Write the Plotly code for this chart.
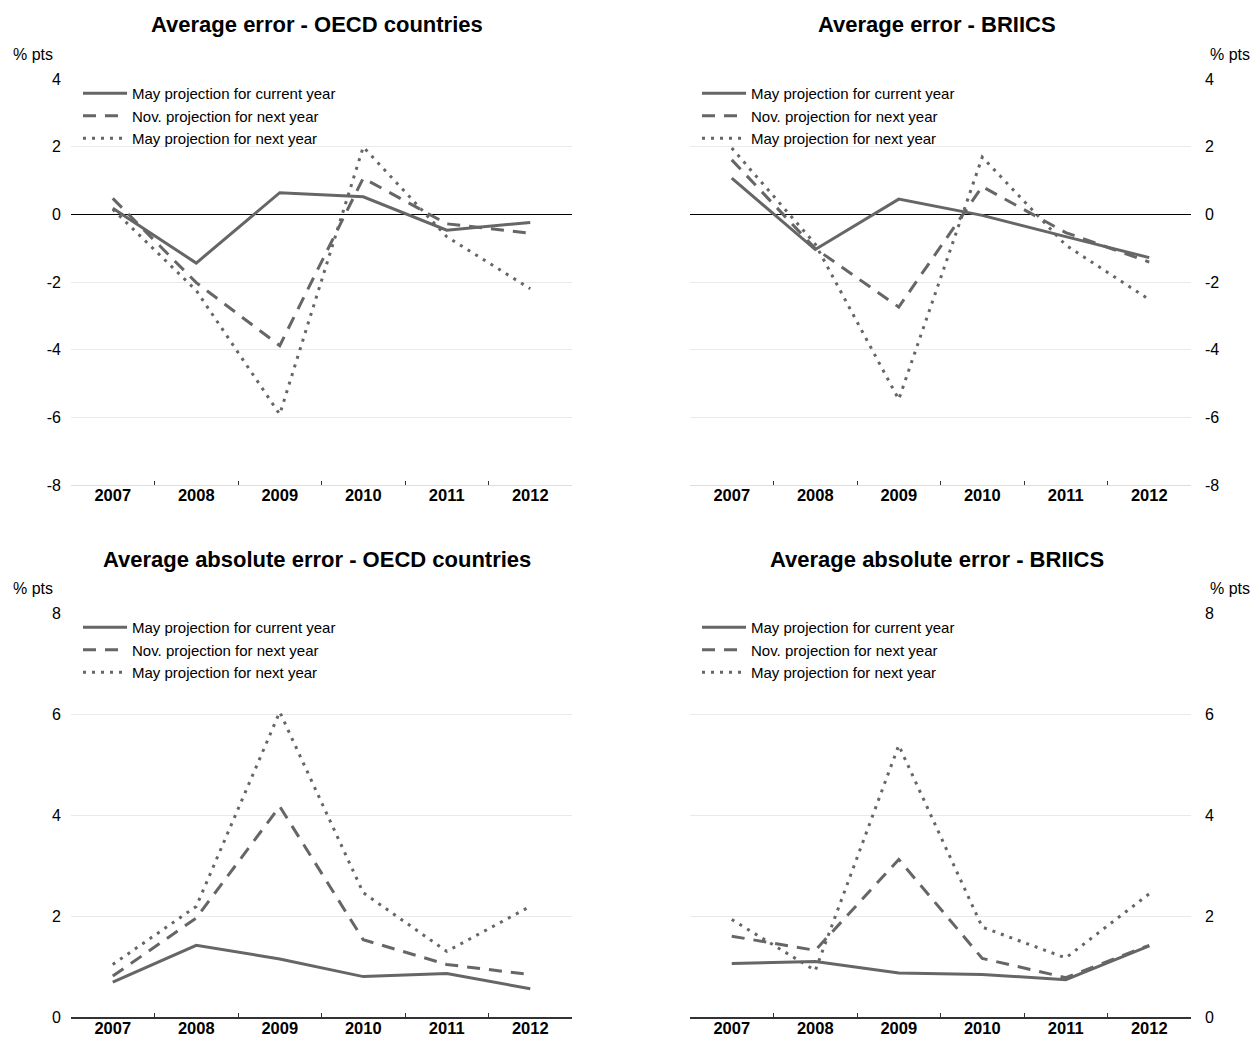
import plotly.graph_objects as go

years = ["2007", "2008", "2009", "2010", "2011", "2012"]
series_names = ["May projection for current year", "Nov. projection for next year", "May projection for next year"]

# Average error - OECD countries
oecd_err_may_cur = [0.18, -1.44, 0.64, 0.52, -0.47, -0.24]
oecd_err_nov_next = [0.47, -2.02, -3.88, 1.07, -0.28, -0.56]
oecd_err_may_next = [0.15, -2.25, -5.91, 1.99, -0.66, -2.20]

# Average error - BRIICS
briics_err_may_cur = [1.07, -1.04, 0.45, -0.03, -0.66, -1.28]
briics_err_nov_next = [1.61, -1.01, -2.74, 0.82, -0.54, -1.41]
briics_err_may_next = [1.96, -0.88, -5.47, 1.69, -0.91, -2.52]

# Average absolute error - OECD countries
oecd_abs_may_cur = [0.69, 1.42, 1.15, 0.80, 0.86, 0.56]
oecd_abs_nov_next = [0.81, 1.96, 4.17, 1.53, 1.04, 0.84]
oecd_abs_may_next = [1.04, 2.19, 6.04, 2.46, 1.30, 2.19]

# Average absolute error - BRIICS
briics_abs_may_cur = [1.06, 1.10, 0.87, 0.84, 0.74, 1.41]
briics_abs_nov_next = [1.60, 1.32, 3.12, 1.16, 0.78, 1.42]
briics_abs_may_next = [1.93, 0.92, 5.38, 1.78, 1.17, 2.44]

err_ticks = [-8, -6, -4, -2, 0, 2, 4]
abs_ticks = [0, 2, 4, 6, 8]

titles = ["Average error - OECD countries", "Average error - BRIICS",
          "Average absolute error - OECD countries", "Average absolute error - BRIICS"]

W, H = 1253, 1038
LINE = "#666666"
GRID = "#e9e9e9"
FONT = "Liberation Sans, Arial, Helvetica, sans-serif"


def px_x(p):
    return p / W


def px_y(p):
    return 1 - p / H


panels = [
    dict(data=[oecd_err_may_cur, oecd_err_nov_next, oecd_err_may_next], x0=71, x1=572, ytop=79, ybot=485,
         rng=[-8, 4], tickvals=err_ticks, side="left", top=True),
    dict(data=[briics_err_may_cur, briics_err_nov_next, briics_err_may_next], x0=690, x1=1191, ytop=79, ybot=485,
         rng=[-8, 4], tickvals=err_ticks, side="right", top=True),
    dict(data=[oecd_abs_may_cur, oecd_abs_nov_next, oecd_abs_may_next], x0=71, x1=572, ytop=613, ybot=1017,
         rng=[0, 8], tickvals=abs_ticks, side="left", top=False),
    dict(data=[briics_abs_may_cur, briics_abs_nov_next, briics_abs_may_next], x0=690, x1=1191, ytop=613, ybot=1017,
         rng=[0, 8], tickvals=abs_ticks, side="right", top=False),
]

dashes = ["solid", "13px,9px", "3px,6px"]

fig = go.Figure()
layout = dict(
    width=W, height=H, margin=dict(l=0, r=0, t=0, b=0, autoexpand=False),
    paper_bgcolor="white", plot_bgcolor="white",
    font=dict(family=FONT, size=16, color="black"),
    annotations=[],
)

for i, p in enumerate(panels):
    n = "" if i == 0 else str(i + 1)
    xa, ya = "x" + n, "y" + n
    lg = "legend" + n
    for j, vals in enumerate(p["data"]):
        fig.add_trace(go.Scatter(
            x=years, y=vals, mode="lines", name=series_names[j],
            line=dict(color=LINE, width=3, dash=dashes[j]),
            xaxis=xa, yaxis=ya, legend=lg, showlegend=True,
        ))
    layout["xaxis" + n] = dict(
        domain=[px_x(p["x0"]), px_x(p["x1"])], anchor=ya, type="category",
        range=[-0.5, 5.5], showgrid=False, zeroline=False, automargin=False,
        showline=True, linecolor=("#dddddd" if p["top"] else "#333333"), linewidth=(1 if p["top"] else 1.5),
        ticks="inside", tickson="boundaries", ticklen=4, tickcolor="#333333", tickwidth=1,
        tickfont=dict(family=FONT, size=16.5, color="black", weight="bold"),
        ticklabelstandoff=-5,
        fixedrange=True,
    )
    layout["yaxis" + n] = dict(
        domain=[px_y(p["ybot"]), px_y(p["ytop"])], anchor=xa, range=p["rng"],
        tickvals=p["tickvals"], ticktext=[str(v) for v in p["tickvals"]],
        showgrid=True, gridcolor=GRID, gridwidth=1, automargin=False,
        zeroline=p["top"], zerolinecolor="black", zerolinewidth=1,
        showline=False, ticks="", side=p["side"],
        ticklabelstandoff=(9 if p["side"] == "left" else 13),
        tickfont=dict(family=FONT, size=16, color="black"),
        fixedrange=True,
    )
    layout[lg] = dict(
        x=px_x(p["x0"] + 7), y=px_y(p["ytop"] - 2), xanchor="left", yanchor="top",
        bgcolor="rgba(0,0,0,0)", borderwidth=0, font=dict(family=FONT, size=15, color="black"),
        tracegroupgap=0, itemwidth=44,
    )
    layout["annotations"].append(dict(
        text="<b>" + titles[i] + "</b>", xref="paper", yref="paper",
        x=px_x((p["x0"] + p["x1"]) / 2 - 4), y=px_y(p["ytop"] - 54),
        xanchor="center", yanchor="middle", showarrow=False,
        font=dict(family=FONT, size=22, color="black"),
    ))
    if p["side"] == "left":
        ux, xanc = px_x(11), "left"
    else:
        ux, xanc = px_x(1252), "right"
    layout["annotations"].append(dict(
        text="% pts", xref="paper", yref="paper", x=ux, y=px_y(p["ytop"] - 25),
        xanchor=xanc, yanchor="middle", showarrow=False,
        font=dict(family=FONT, size=16, color="black"),
    ))

fig.update_layout(**layout)
fig.write_html("out.html", config={"displayModeBar": False},
               post_script="document.body.style.margin='0';document.body.style.overflow='hidden';")
